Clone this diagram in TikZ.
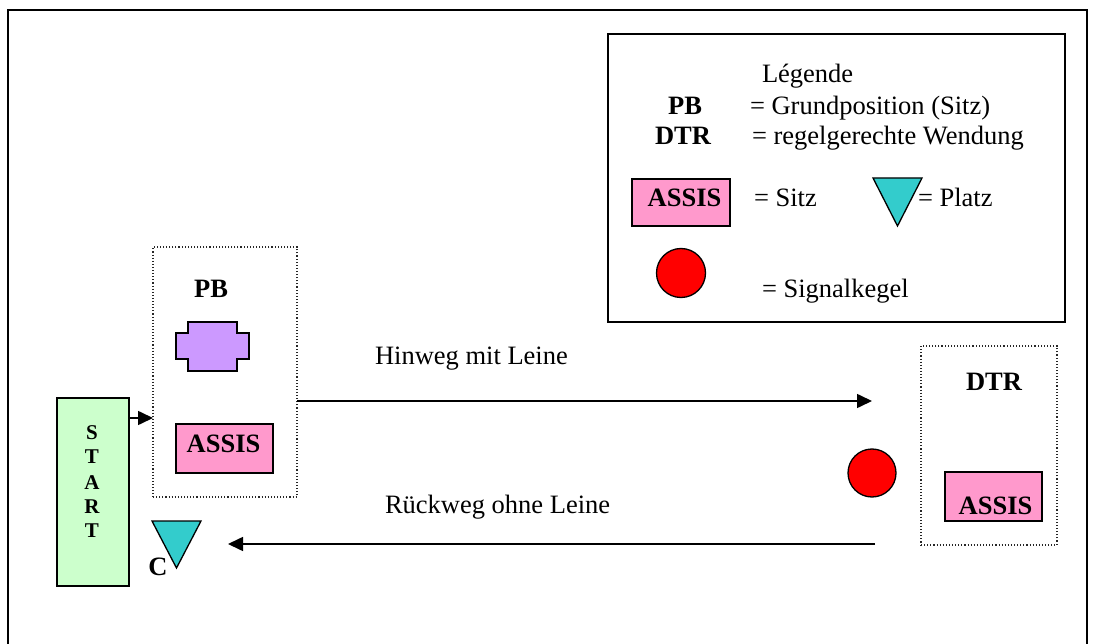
\documentclass[tikz,border=0pt]{standalone}
\usepackage{fontspec}
\setmainfont{Liberation Serif}
\usetikzlibrary{arrows.meta,calc}
\definecolor{cpurple}{HTML}{CC99FF}
\definecolor{cpink}{HTML}{FF99CC}
\definecolor{cgreen}{HTML}{CCFFCC}
\definecolor{cteal}{HTML}{33CCCC}
\definecolor{cred}{HTML}{FF0000}
\begin{document}
\begin{tikzpicture}[x=1pt,y=-1pt,
  every node/.style={inner sep=0pt, outer sep=0pt, font=\fontsize{26.5}{31}\selectfont},
  txt/.style={anchor=base west},
  btxt/.style={anchor=base, font=\fontsize{26.5}{31}\selectfont\bfseries},
  shapeline/.style={draw=black, line width=1.3pt},
  dotbox/.style={draw=black!85, dotted, line width=1.1pt},
  arr/.style={line width=1.6pt, -{Triangle[length=15pt,width=14pt]}},
  assisbox/.style={shapeline, fill=cpink, minimum width=97pt, minimum height=49pt}
]
\useasboundingbox (0,0) rectangle (1093,644);
% outer frame
\draw[line width=2pt] (8,644) -- (8,10) -- (1087,10) -- (1087,644);

% legend
\node[draw, line width=2pt, minimum width=457pt, minimum height=288pt] (legend) at (836.5,178) {};
\node[txt] (leg) at (762,83) {Légende};
\node[btxt] (lpb) at (685,115) {PB};
\node[txt] (lpbt) at (750,115) {= Grundposition (Sitz)};
\node[btxt] (ldtr) at (683,145) {DTR};
\node[txt] (ldtrt) at (752,145) {= regelgerechte Wendung};
\node[assisbox, minimum width=98pt, minimum height=47pt] (lassis) at (681,202.5) {};
\node[btxt] (lassist) at (684.5,207) {ASSIS};
\node[txt] (lsitz) at (754,207) {= Sitz};
\draw[shapeline, fill=cteal] (873,178) -- (922,178) -- (897.5,226) -- cycle;
\node[txt] (lplatz) at (918,207) {= Platz};
\node[shapeline, fill=cred, circle, minimum size=49pt] (lcone) at (681,273) {};
\node[txt] (lsig) at (762,298) {= Signalkegel};

% PB box
\node[dotbox, minimum width=144pt, minimum height=250pt] (pbbox) at (225,372) {};
\node[btxt] (pb) at (211,298) {PB};
\draw[shapeline, fill=cpurple] (188,322) -- (237,322) -- (237,333) -- (249,333) -- (249,359)
  -- (237,359) -- (237,371) -- (188,371) -- (188,359) -- (176,359) -- (176,333) -- (188,333) -- cycle;
\node[assisbox] (assis1) at (224.5,448.5) {};
\node[btxt] (assis1t) at (223.5,453) {ASSIS};

% START
\node[shapeline, fill=cgreen, minimum width=72pt, minimum height=188pt] (start) at (93,492) {};
\foreach \l/\y in {S/439, T/463, A/489, R/513, T/537}
  \node[anchor=base, font=\fontsize{21}{24}\selectfont\bfseries] at (92,\y) {\l};
\coordinate (a1) at (0,418);
\draw[arr] (start.east |- a1) -- (pbbox.west |- a1);

% C triangle
\draw[shapeline, fill=cteal] (152,521) -- (201,521) -- (176.5,568) -- cycle;
\node[btxt] (c) at (158,575) {C};

% DTR box
\node[dotbox, minimum width=136pt, minimum height=199pt] (dtrbox) at (989,445.5) {};
\node[btxt] (dtr) at (994,391) {DTR};
\node[assisbox] (assis2) at (993.5,496.5) {};
\node[btxt] (assis2t) at (995.5,514) {ASSIS};

% cone
\node[shapeline, fill=cred, circle, minimum size=48pt] (cone) at (872,473) {};

% arrows
\coordinate (hin) at (872,401);
\draw[arr] (pbbox.east |- hin) -- (hin);
\node[txt] (hint) at (375,365) {Hinweg mit Leine};
\coordinate (rs) at (875,544);
\coordinate (re) at (228,544);
\draw[arr] (rs) -- (re);
\node[txt] (rt) at (385,513) {Rückweg ohne Leine};
\end{tikzpicture}
\end{document}
